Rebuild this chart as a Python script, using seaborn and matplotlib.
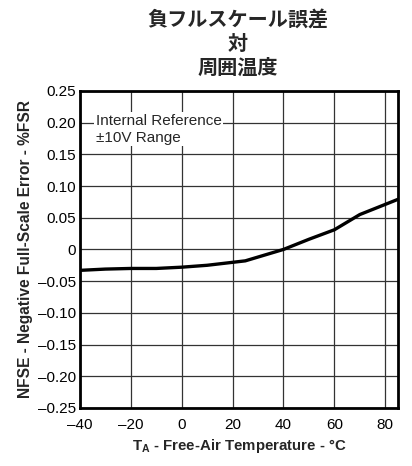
import matplotlib
matplotlib.use("Agg")
import matplotlib.pyplot as plt
import seaborn as sns
import pandas as pd

# Negative full-scale error versus free-air temperature
temperature_c = [-40, -30, -20, -10, 0, 10, 25, 40, 50, 60, 70, 80, 85]
nfse_pct_fsr = [-0.033, -0.031, -0.030, -0.030, -0.028, -0.025, -0.018,
                0.000, 0.016, 0.031, 0.055, 0.071, 0.079]

x_ticks = [-40, -20, 0, 20, 40, 60, 80]
x_tick_labels = ["–40", "–20", "0", "20", "40", "60", "80"]
y_ticks = [0.25, 0.20, 0.15, 0.10, 0.05, 0, -0.05, -0.10, -0.15, -0.20, -0.25]
y_tick_labels = ["0.25", "0.20", "0.15", "0.10", "0.05", "0",
                 "–0.05", "–0.10", "–0.15", "–0.20", "–0.25"]

title_lines = ["負フルスケール誤差", "対", "周囲温度"]
note_text = "Internal Reference\n±10V Range"

sns.set_theme(style="white")
plt.rcParams["font.family"] = ["Liberation Sans", "Noto Sans CJK JP", "DejaVu Sans"]
plt.rcParams["mathtext.fontset"] = "custom"
plt.rcParams["mathtext.rm"] = "Liberation Sans"
plt.rcParams["mathtext.bf"] = "Liberation Sans:bold"

df = pd.DataFrame({"T": temperature_c, "E": nfse_pct_fsr})

fig = plt.figure(figsize=(4.12, 4.66), dpi=100)
ax = fig.add_axes([0.194, 0.1245, 0.772, 0.6805])

sns.lineplot(data=df, x="T", y="E", ax=ax, color="black", linewidth=2.4)

ax.set_xlim(-40, 85)
ax.set_ylim(-0.25, 0.25)
ax.set_xticks(x_ticks)
ax.set_xticklabels(x_tick_labels)
ax.set_yticks(y_ticks)
ax.set_yticklabels(y_tick_labels)
ax.tick_params(axis="both", length=0, labelsize=11, colors="black")
ax.tick_params(axis="x", pad=7)
ax.tick_params(axis="y", pad=3)

ax.grid(True, color="#333333", linewidth=0.9)
ax.set_axisbelow(True)
for s in ax.spines.values():
    s.set_color("black")
    s.set_linewidth(2.0)

ax.set_xlabel(r"$\mathbf{T_A}$ - Free-Air Temperature - °C",
              fontsize=10.8, fontweight="bold", labelpad=4)
ax.set_ylabel("NFSE - Negative Full-Scale Error - %FSR",
              fontsize=11.2, fontweight="bold", labelpad=3)

ax.text(-33.8, 0.214, note_text, fontsize=11, va="top", ha="left",
        linespacing=1.3,
        bbox=dict(facecolor="white", edgecolor="none", pad=1.0))

fig.text(0.578, 0.982, "\n".join(title_lines), ha="center", va="top",
         fontsize=14.5, fontweight="bold", linespacing=1.2,
         family=["Noto Sans CJK JP", "DejaVu Sans"])

fig.savefig("out.png", dpi=100)
